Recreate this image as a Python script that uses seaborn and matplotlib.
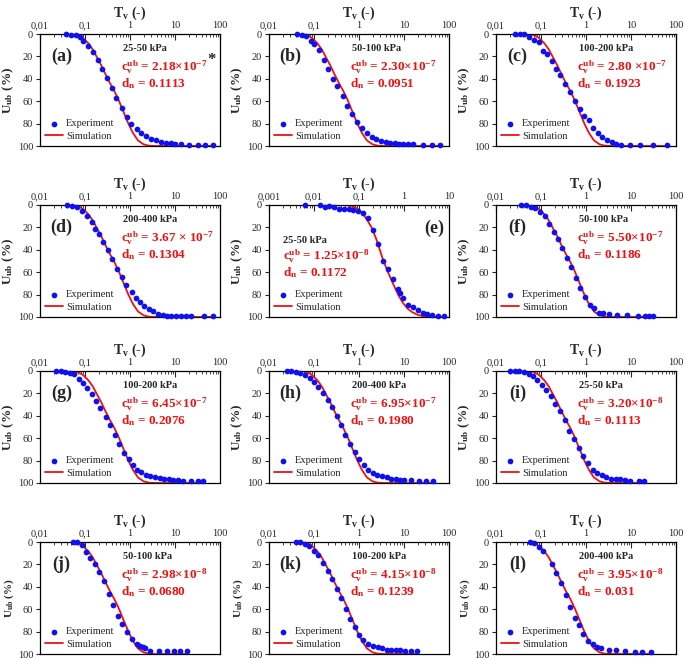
import numpy as np
import pandas as pd
import matplotlib.pyplot as plt
import seaborn as sns
from matplotlib.ticker import FixedLocator, LogLocator, NullFormatter

# experiment points (Tv, Uub %)
tv_a = [0.037, 0.048, 0.062, 0.076, 0.091, 0.115, 0.15, 0.19, 0.24, 0.31, 0.40, 0.50, 0.65, 0.84, 1.05,
        1.4, 1.8, 2.3, 3.0, 3.8, 5.0, 6.2, 8.0, 10, 13.5, 21, 32, 47, 70]
u_a = [0, 0.5, 1, 3, 6, 10.5, 16.5, 23, 31, 39, 48.5, 57, 66.5, 74.5, 80, 85, 88.5, 91.5, 93.5, 95,
       96, 97, 97.5, 98, 98.5, 99, 99.2, 99.2, 99.2]

tv_b = [0.042, 0.055, 0.068, 0.085, 0.10, 0.13, 0.17, 0.21, 0.27, 0.33, 0.43, 0.54, 0.71, 0.90, 1.17,
        1.48, 1.9, 2.4, 3.1, 3.9, 5.0, 6.2, 7.7, 9.7, 12.4, 16, 26, 42, 62]
u_b = [0, 1, 1.5, 6, 9, 14, 23, 31, 40, 46, 55, 64, 71, 79, 84, 88, 92, 94, 95.5, 96, 97, 97.6, 98,
       98.2, 98.5, 98.6, 98.8, 98.9, 99]

tv_c = [0.027, 0.034, 0.042, 0.055, 0.071, 0.088, 0.11, 0.135, 0.175, 0.22, 0.27, 0.35, 0.44, 0.56,
        0.73, 0.92, 1.15, 1.45, 1.84, 2.3, 2.9, 3.7, 4.7, 5.9, 9.3, 16, 31, 64]
u_c = [0, 0, 0.3, 2.4, 5, 7, 15, 18, 24, 31, 37, 45, 52, 60, 67, 73, 77, 83.5, 88.6, 92, 94.6, 96.4,
       98, 98.8, 99.2, 99.2, 99.2, 99.2]

tv_d = [0.040, 0.052, 0.066, 0.086, 0.11, 0.14, 0.17, 0.21, 0.25, 0.32, 0.40, 0.52, 0.66, 0.82, 1.08,
        1.35, 1.7, 2.1, 2.6, 3.3, 4.1, 5.3, 6.6, 8.3, 10.5, 13.3, 17.3, 22.5, 43, 69]
u_d = [0.3, 1, 2, 5, 10, 15.5, 21, 25.7, 33, 40.6, 48.6, 57, 64.5, 71.6, 78, 82.7, 87, 90.4, 93, 95,
       97, 98, 98.8, 98.8, 99.2, 99.2, 99.2, 99.2, 99.2, 99.2]

tv_e = [0.0064, 0.0134, 0.0174, 0.022, 0.028, 0.036, 0.046, 0.059, 0.075, 0.096, 0.125, 0.16, 0.21,
        0.27, 0.34, 0.43, 0.56, 0.72, 0.83, 0.94, 1.2, 1.56, 2.0, 2.6, 3.3, 4.2, 5.7, 7.7]
u_e = [0, 0.3, 1.8, 1, 2, 3.3, 3.3, 3.6, 4.5, 5, 7, 11.3, 22.4, 35, 50, 57, 65.7, 74.6, 78.5, 83, 89,
       91, 94, 96, 97.6, 98, 99, 99.2]

tv_f = [0.036, 0.047, 0.060, 0.074, 0.095, 0.12, 0.15, 0.19, 0.24, 0.30, 0.38, 0.47, 0.59, 0.75, 0.95,
        1.2, 1.5, 1.9, 2.4, 3.2, 5.0, 8.0, 14, 20, 24.5, 31]
u_f = [0, 0.3, 2, 2.7, 6.6, 9.6, 17, 24, 30, 38.6, 47, 55, 65, 74, 82, 89.5, 92, 96, 96.4, 97.6, 98,
       98.5, 99, 99, 99, 99.3]

tv_g = [0.023, 0.029, 0.036, 0.047, 0.056, 0.073, 0.090, 0.11, 0.14, 0.18, 0.22, 0.29, 0.36, 0.47,
        0.58, 0.73, 0.93, 1.15, 1.44, 1.8, 2.3, 2.8, 3.6, 4.6, 5.7, 7.4, 9.2, 11.7, 15, 23, 32, 42]
u_g = [0, 0, 0.6, 1.8, 3, 7, 11, 15.5, 20.6, 27, 33, 41, 48, 57, 65, 73, 79, 84, 88, 90.5, 92.5, 93.5,
       94.5, 95.5, 96.3, 96.8, 97.2, 97.4, 97.8, 98, 98.2, 98.2]

tv_h = [0.025, 0.031, 0.040, 0.050, 0.063, 0.080, 0.10, 0.123, 0.16, 0.20, 0.25, 0.32, 0.39, 0.50,
        0.64, 0.80, 1.0, 1.27, 1.6, 2.0, 2.55, 3.2, 4.1, 5.1, 6.5, 8.1, 10.2, 14.5, 22, 31, 43]
u_h = [0, 0, 1, 2, 4, 6, 9.5, 14, 19.4, 26, 32, 40, 48, 57, 65, 72, 78.5, 84, 88, 91, 93, 94, 95, 96,
       96.7, 97, 97.3, 97.6, 98, 98, 98]

tv_i = [0.021, 0.026, 0.033, 0.041, 0.053, 0.066, 0.083, 0.105, 0.13, 0.17, 0.21, 0.27, 0.34, 0.42,
        0.55, 0.70, 0.87, 1.1, 1.4, 1.8, 2.25, 2.85, 3.6, 4.6, 5.8, 7.3, 9.4, 15, 19]
u_i = [0, 0, 0, 0.6, 2.4, 4.2, 8.4, 12.5, 17.3, 22, 29.5, 35.5, 44, 53.4, 61, 69, 76, 82, 88.6, 90.7,
       92.5, 94.6, 96, 96.7, 96.7, 97.3, 98, 98.5, 98.5]

tv_j = [0.055, 0.067, 0.084, 0.105, 0.13, 0.17, 0.21, 0.27, 0.34, 0.42, 0.54, 0.68, 0.87, 1.1, 1.4,
        1.7, 1.95, 2.2, 2.8, 4.3, 6.6, 9.3, 12.6, 18.5]
u_j = [0, 0.3, 3, 9, 14, 19.4, 27, 35, 46, 56, 66, 73, 80, 87, 91, 93, 94, 95, 97, 97.6, 97.6, 97.6,
       97.6, 97.6]

tv_k = [0.039, 0.049, 0.062, 0.077, 0.098, 0.12, 0.16, 0.20, 0.25, 0.32, 0.40, 0.51, 0.64, 0.80, 1.0,
        1.25, 1.6, 2.0, 2.6, 3.2, 4.1, 5.1, 6.6, 8.1, 10.6, 14, 19]
u_k = [0, 0.3, 2, 4, 8.4, 11.3, 19, 26, 33, 42, 50, 60, 69, 76, 83, 87.5, 91, 93, 94, 95, 96, 96,
       96.4, 96.4, 97, 97.6, 97.6]

tv_l = [0.058, 0.071, 0.089, 0.11, 0.18, 0.22, 0.28, 0.36, 0.44, 0.56, 0.71, 0.87, 1.1, 1.4, 1.8, 2.2,
        3.2, 4.7, 7.3, 12, 17.6, 28]
u_l = [0, 1, 4.5, 7.7, 19.6, 27.6, 36.5, 47.5, 58, 67.6, 74.5, 82.5, 88.4, 91.4, 93.5, 94.7, 96,
       96.7, 97.3, 97.9, 98.2, 98.5]

# simulation curve (same shape in all panels but (e))
sim_tv = [0.04, 0.055, 0.07, 0.09, 0.12, 0.15, 0.18, 0.23, 0.29, 0.36, 0.45, 0.56, 0.7, 0.92, 1.15,
          1.5, 2.0, 2.6, 3.5]
sim_u = [0, 0, 1, 3.5, 8.5, 14, 20, 28, 36.5, 44, 51, 59, 68.5, 80, 88, 95, 98.5, 99.7, 100]
sim_tv_e = [0.0064, 0.05, 0.07, 0.09, 0.12, 0.15, 0.19, 0.24, 0.29, 0.34, 0.42, 0.52, 0.63, 0.75,
            0.95, 1.2, 1.5, 2.0, 3.0]
sim_u_e = [0, 0, 1, 3, 7.5, 13, 20, 30, 40, 48.5, 58, 66.5, 74, 80.5, 87.5, 92.5, 95.5, 98, 99.8]

panel_ids = ['a', 'b', 'c', 'd', 'e', 'f', 'g', 'h', 'i', 'j', 'k', 'l']
pressures = ['25-50 kPa', '50-100 kPa', '100-200 kPa', '200-400 kPa', '25-50 kPa', '50-100 kPa',
             '100-200 kPa', '200-400 kPa', '25-50 kPa', '50-100 kPa', '100-200 kPa', '200-400 kPa']
cv_mant = ['2.18×10', '2.30×10', '2.80 ×10', '3.67 × 10', '1.25×10', '5.50×10',
           '6.45×10', '6.95×10', '3.20×10', '2.98×10', '4.15×10', '3.95×10']
cv_exp = ['-7', '-7', '-7', '-7', '-8', '-7', '-7', '-7', '-8', '-8', '-8', '-8']
dn_vals = ['0.1113', '0.0951', '0.1923', '0.1304', '0.1172', '0.1186',
           '0.2076', '0.1980', '0.1113', '0.0680', '0.1239', '0.031']

exp_tv = [tv_a, tv_b, tv_c, tv_d, tv_e, tv_f, tv_g, tv_h, tv_i, tv_j, tv_k, tv_l]
exp_u = [u_a, u_b, u_c, u_d, u_e, u_f, u_g, u_h, u_i, u_j, u_k, u_l]

sns.set_style("ticks")
plt.rcParams['font.family'] = ['Liberation Serif', 'DejaVu Serif']
plt.rcParams['mathtext.fontset'] = 'custom'
plt.rcParams['mathtext.rm'] = 'Liberation Serif'
plt.rcParams['mathtext.it'] = 'Liberation Serif:italic'
plt.rcParams['mathtext.bf'] = 'Liberation Serif:bold'

W, H = 685, 658
fig = plt.figure(figsize=(W / 100, H / 100), dpi=100)

col_left = [40, 269, 496]
col_w = [180, 180, 180]
row_top = [34, 205, 371, 542]
ax_h = 112
red = '#F01010'
blue = '#1010F0'

for i, pid in enumerate(panel_ids):
    r, c = divmod(i, 3)
    ax = fig.add_axes([col_left[c] / W, 1 - (row_top[r] + ax_h) / H, col_w[c] / W, ax_h / H])
    tv = np.array(exp_tv[i])
    u = np.array(exp_u[i])

    if pid == 'e':
        s_tv, s_u = np.array(sim_tv_e), np.array(sim_u_e)
        xlim = (0.001, 10)
        majors = [0.001, 0.01, 0.1, 1, 10]
        labels = ['0,001', '0,01', '0,1', '1', '10']
    else:
        s_tv, s_u = np.array(sim_tv), np.array(sim_u)
        xlim = (0.01, 100)
        majors = [0.01, 0.1, 1, 10, 100]
        labels = ['0,01', '0,1', '1', '10', '100']
    keep = s_tv < tv.max()
    s_tv = np.append(s_tv[keep], tv.max())
    s_u = np.append(s_u[keep], 100)

    sns.scatterplot(x=tv, y=u, ax=ax, color=blue, s=17, linewidth=0, label='Experiment',
                    zorder=3, clip_on=False)
    sns.lineplot(x=s_tv, y=s_u, ax=ax, color=red, lw=1.3, sort=False, estimator=None,
                 label='Simulation', zorder=2)

    ax.set_xscale('log')
    ax.set_xlim(*xlim)
    ax.set_ylim(100, 0)
    ax.xaxis.set_major_locator(FixedLocator(majors))
    ax.set_xticklabels(labels)
    ax.xaxis.set_minor_locator(LogLocator(base=10, subs=np.arange(2, 10)))
    ax.xaxis.set_minor_formatter(NullFormatter())
    ax.xaxis.tick_top()
    ax.xaxis.set_label_position('top')
    ax.tick_params(axis='x', which='major', direction='in', length=4, width=0.8, labelsize=7.5, pad=3,
                   top=True, bottom=False)
    ax.tick_params(axis='x', which='minor', direction='in', length=2, width=0.6, top=True, bottom=False)
    ax.set_yticks([0, 20, 40, 60, 80, 100])
    ax.tick_params(axis='y', direction='out', length=3, width=0.8, labelsize=7.5, pad=2)
    for sp in ax.spines.values():
        sp.set_visible(True)
        sp.set_linewidth(0.9)
        sp.set_color('black')

    ax.set_xlabel(r'$\mathbf{T_v}$ (-)', fontsize=10, fontweight='bold', labelpad=3)
    ylab_size = 8 if r == 3 else 9.5
    ax.set_ylabel(r'$\mathbf{U_{ub}}$ (%)', fontsize=ylab_size, fontweight='bold', labelpad=1)

    cv_txt = r'$\mathbf{c_v^{ub}}$ = ' + cv_mant[i] + r'$^{\mathbf{' + cv_exp[i] + '}}$'
    dn_txt = r'$\mathbf{d_n}$ = ' + dn_vals[i]
    if pid == 'e':
        ax.text(0.92, 0.79, '(e)', transform=ax.transAxes, ha='center', va='center',
                fontsize=13, fontweight='bold')
        ax.text(0.08, 0.68, pressures[i], transform=ax.transAxes, ha='left', va='center',
                fontsize=7.5, fontweight='bold')
        ax.text(0.08, 0.54, cv_txt, transform=ax.transAxes, ha='left', va='center',
                fontsize=9.5, fontweight='bold', color=red)
        ax.text(0.08, 0.40, dn_txt, transform=ax.transAxes, ha='left', va='center',
                fontsize=9.5, fontweight='bold', color=red)
    else:
        ax.text(0.12, 0.80, '(' + pid + ')', transform=ax.transAxes, ha='center', va='center',
                fontsize=13, fontweight='bold')
        ax.text(0.46, 0.87, pressures[i], transform=ax.transAxes, ha='left', va='center',
                fontsize=7.5, fontweight='bold')
        ax.text(0.45, 0.70, cv_txt, transform=ax.transAxes, ha='left', va='center',
                fontsize=9.5, fontweight='bold', color=red)
        ax.text(0.45, 0.56, dn_txt, transform=ax.transAxes, ha='left', va='center',
                fontsize=9.5, fontweight='bold', color=red)
    if pid == 'a':
        ax.text(0.955, 0.77, '*', transform=ax.transAxes, ha='center', va='center',
                fontsize=12, fontweight='bold')

    ax.legend(loc='lower left', frameon=False, fontsize=7.5, scatterpoints=1, handlelength=1.7,
              handletextpad=0.3, labelspacing=0.3, borderaxespad=0.1, borderpad=0.4)

fig.savefig('out.png', dpi=100)
